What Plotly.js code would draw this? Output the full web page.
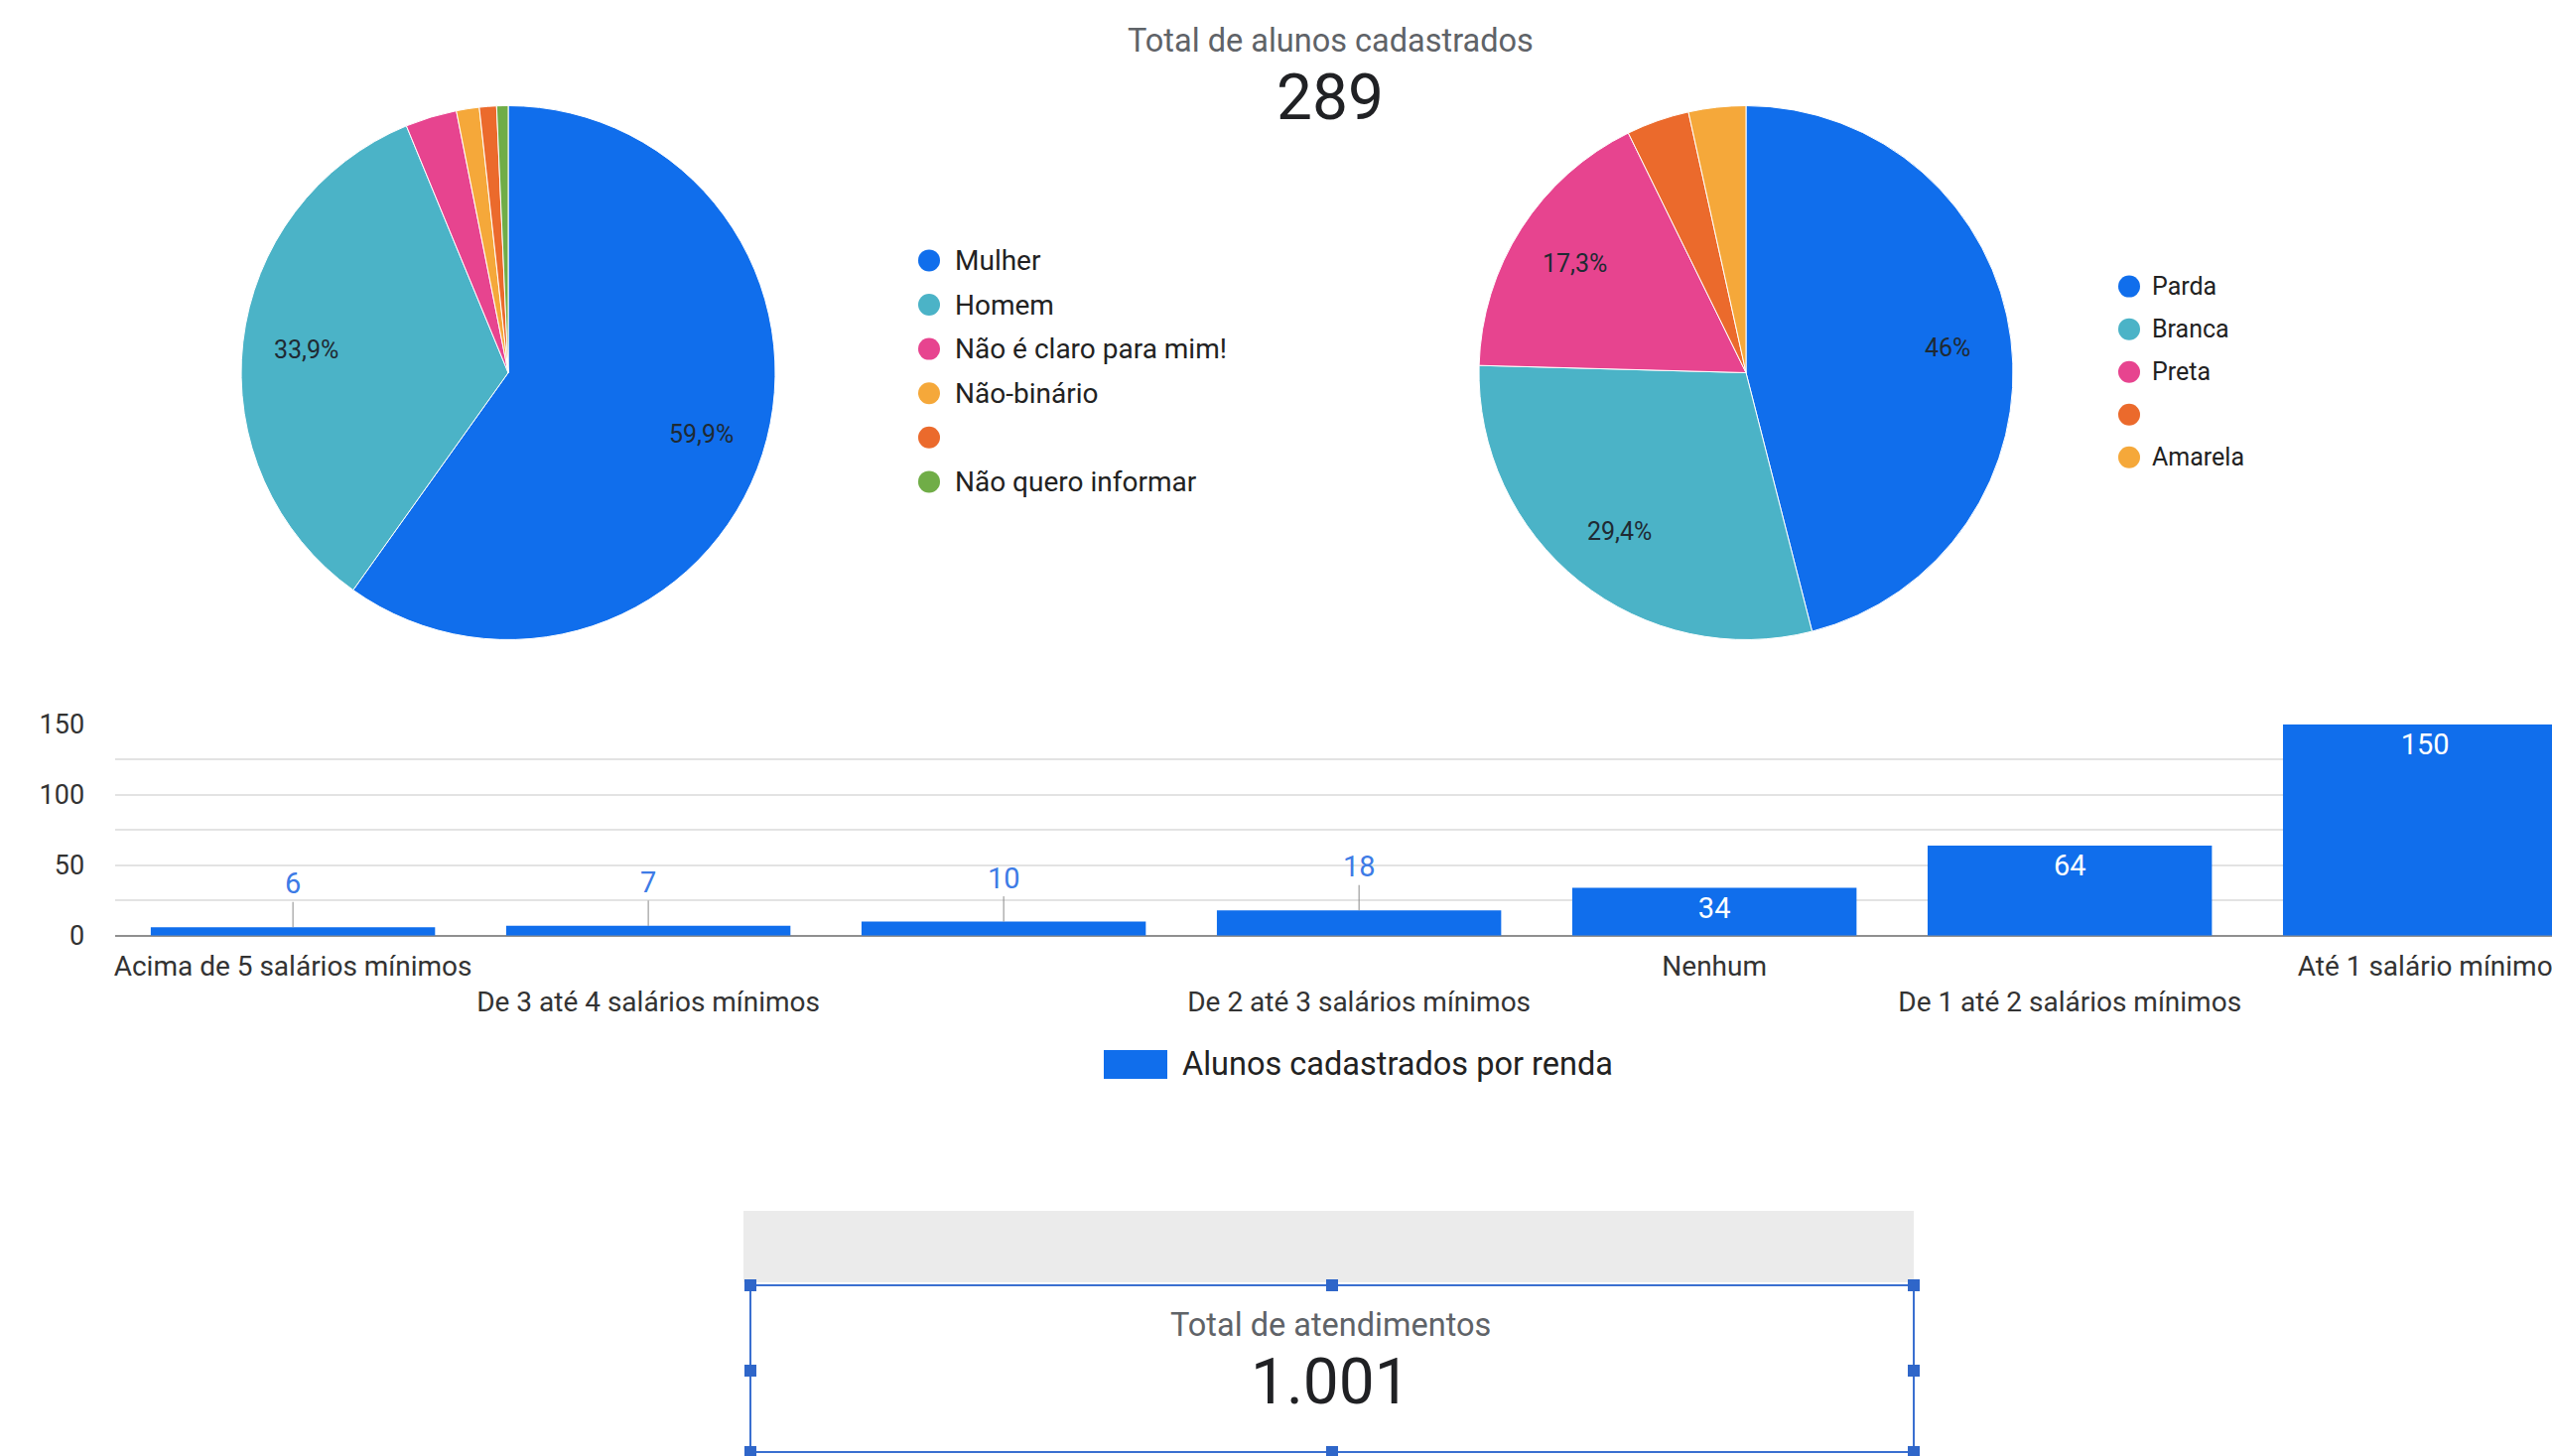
<!DOCTYPE html>
<html>
<head>
<meta charset="utf-8">
<script src="https://cdn.plot.ly/plotly-3.0.1.min.js"></script>
<style>
  html, body { margin: 0; padding: 0; background: #ffffff; overflow: hidden; }
  #chart { width: 2571px; height: 1467px; }
</style>
</head>
<body>
<div id="chart"></div>
<script>
// ---------------- DATA ----------------
const totalAlunos = 289;
const totalAtendimentos = '1.001';

const generoLabels = ['Mulher', 'Homem', 'Não é claro para mim!', 'Não-binário', '', 'Não quero informar'];
const generoValores = [173, 98, 9, 4, 3, 2];

const racaLabels = ['Parda', 'Branca', 'Preta', '', 'Amarela'];
const racaValores = [133, 85, 50, 11, 10];

const rendaCategorias = ['Acima de 5 salários mínimos', 'De 3 até 4 salários mínimos', 'De 4 até 5 salários mínimos',
  'De 2 até 3 salários mínimos', 'Nenhum', 'De 1 até 2 salários mínimos', 'Até 1 salário mínimo'];
const rendaValores = [6, 7, 10, 18, 34, 64, 150];
const rendaTickLabels = ['Acima de 5 salários mínimos', 'De 3 até 4 salários mínimos', '',
  'De 2 até 3 salários mínimos', 'Nenhum', 'De 1 até 2 salários mínimos', 'Até 1 salário mínimo'];
const rendaSerie = 'Alunos cadastrados por renda';

// ---------------- STYLE ----------------
const W = 2571, H = 1467;
const FONT = 'Roboto, "Noto Sans", Arial, sans-serif';
const BLUE = '#106eec';
const generoCores = ['#106eec', '#4bb3c7', '#e7448f', '#f5a83a', '#eb6a2c', '#70ad47'];
const racaCores = ['#106eec', '#4bb3c7', '#e7448f', '#eb6a2c', '#f5a83a'];

const px = x => x / W;
const py = y => 1 - y / H;

const pieL = { cx: 512, cy: 375.5, r: 269 };
const pieR = { cx: 1759, cy: 375.5, r: 269 };

function pieDomain(p) {
  return { x: [px(p.cx - p.r), px(p.cx + p.r)], y: [py(p.cy + p.r), py(p.cy - p.r)] };
}
function fmtPct(v, total) {
  const n = Math.round(v / total * 1000) / 10;
  return n.toString().replace('.', ',') + '%';
}

const annotations = [];
const shapes = [];

function pieLabels(p, values) {
  const total = values.reduce((a, b) => a + b, 0);
  let cum = 0;
  values.forEach(v => {
    const phi = 2 * Math.PI * (cum + v / 2) / total;
    cum += v;
    if (v / total < 0.05) return;
    const x = p.cx + 0.76 * p.r * Math.sin(phi);
    const y = p.cy - 0.76 * p.r * Math.cos(phi);
    annotations.push({
      xref: 'paper', yref: 'paper', x: px(x), y: py(y), xanchor: 'center', yanchor: 'middle',
      text: fmtPct(v, total), showarrow: false, font: { family: FONT, size: 25, color: '#1f2a33' }
    });
  });
}
pieLabels(pieL, generoValores);
pieLabels(pieR, racaValores);

function legend(labels, colors, dotX, textX, y0, step, size) {
  labels.forEach((lab, i) => {
    const y = y0 + i * step;
    shapes.push({
      type: 'circle', xref: 'paper', yref: 'paper', xsizemode: 'pixel', ysizemode: 'pixel',
      xanchor: px(dotX), yanchor: py(y), x0: -11, x1: 11, y0: -11, y1: 11,
      fillcolor: colors[i], line: { width: 0 }
    });
    if (lab) {
      annotations.push({
        xref: 'paper', yref: 'paper', x: px(textX), y: py(y), xanchor: 'left', yanchor: 'middle',
        text: lab, showarrow: false, font: { family: FONT, size: size, color: '#222222' }
      });
    }
  });
}
legend(generoLabels, generoCores, 936, 960, 262.4, 44.6, 28);
legend(racaLabels, racaCores, 2145, 2166, 288.6, 43.05, 25);

// Title KPI
annotations.push({ xref: 'paper', yref: 'paper', x: px(1340), y: py(41), xanchor: 'center', yanchor: 'middle',
  text: 'Total de alunos cadastrados', showarrow: false, font: { family: FONT, size: 32.5, color: '#5f6368' } });
annotations.push({ xref: 'paper', yref: 'paper', x: px(1340), y: py(98), xanchor: 'center', yanchor: 'middle',
  text: String(totalAlunos), showarrow: false, font: { family: FONT, size: 64, color: '#202124' } });

// Bar value labels outside (small bars) with leader line
const INSIDE_MIN = 25;
rendaValores.forEach((v, i) => {
  if (v >= INSIDE_MIN) return;
  annotations.push({
    xref: 'x', yref: 'y', x: rendaCategorias[i], y: v, text: String(v), showarrow: true,
    ax: 0, ay: -44, arrowhead: 0, arrowwidth: 1, arrowcolor: '#8a8a8a', standoff: 0,
    font: { family: FONT, size: 29, color: '#3d7be6' }
  });
});

// Bar legend
shapes.push({ type: 'rect', xref: 'paper', yref: 'paper', x0: px(1112), x1: px(1176), y0: py(1087), y1: py(1058),
  fillcolor: BLUE, line: { width: 0 } });
annotations.push({ xref: 'paper', yref: 'paper', x: px(1189), y: py(1072), xanchor: 'left', yanchor: 'middle',
  text: rendaSerie, showarrow: false, font: { family: FONT, size: 32.5, color: '#222222' } });

// Bottom card
shapes.push({ type: 'rect', xref: 'paper', yref: 'paper', x0: px(749), x1: px(1928), y0: py(1292), y1: py(1220),
  fillcolor: '#ebebeb', line: { width: 0 } });
shapes.push({ type: 'rect', xref: 'paper', yref: 'paper', x0: px(756), x1: px(1928), y0: py(1463), y1: py(1295),
  fillcolor: 'rgba(0,0,0,0)', line: { color: '#3a6fd0', width: 2 } });
[756, 1342, 1928].forEach(hx => {
  [1295, 1381, 1463].forEach(hy => {
    if (hx === 1342 && hy === 1381) return;
    shapes.push({ type: 'rect', xref: 'paper', yref: 'paper', xsizemode: 'pixel', ysizemode: 'pixel',
      xanchor: px(hx), yanchor: py(hy), x0: -6, x1: 6, y0: -6, y1: 6, fillcolor: '#2f66c9', line: { width: 0 } });
  });
});
annotations.push({ xref: 'paper', yref: 'paper', x: px(1340), y: py(1335), xanchor: 'center', yanchor: 'middle',
  text: 'Total de atendimentos', showarrow: false, font: { family: FONT, size: 32.5, color: '#5f6368' } });
annotations.push({ xref: 'paper', yref: 'paper', x: px(1340), y: py(1392), xanchor: 'center', yanchor: 'middle',
  text: totalAtendimentos, showarrow: false, font: { family: FONT, size: 64, color: '#202124' } });

// ---------------- TRACES ----------------
const traces = [
  {
    type: 'pie', labels: generoLabels.map((l, i) => l || '(sem resposta ' + i + ')'), values: generoValores,
    sort: false, direction: 'clockwise', rotation: 0,
    marker: { colors: generoCores, line: { color: '#ffffff', width: 1 } },
    textinfo: 'none', domain: pieDomain(pieL), showlegend: false, hoverinfo: 'label+percent'
  },
  {
    type: 'pie', labels: racaLabels.map((l, i) => l || '(sem resposta ' + i + ')'), values: racaValores,
    sort: false, direction: 'clockwise', rotation: 0,
    marker: { colors: racaCores, line: { color: '#ffffff', width: 1 } },
    textinfo: 'none', domain: pieDomain(pieR), showlegend: false, hoverinfo: 'label+percent'
  },
  {
    type: 'bar', x: rendaCategorias, y: rendaValores, name: rendaSerie,
    marker: { color: BLUE },
    text: rendaValores.map(String),
    textposition: rendaValores.map(v => v >= INSIDE_MIN ? 'inside' : 'none'),
    insidetextanchor: 'end', textangle: 0, constraintext: 'none',
    textfont: { family: FONT, size: 29, color: '#ffffff' },
    showlegend: false, hoverinfo: 'x+y'
  }
];

const layout = {
  width: W, height: H,
  margin: { l: 0, r: 0, t: 0, b: 0, pad: 0 },
  paper_bgcolor: '#ffffff', plot_bgcolor: '#ffffff',
  font: { family: FONT },
  showlegend: false,
  bargap: 0.2,
  xaxis: {
    domain: [px(116.1), 1], range: [-0.5, 6.357], type: 'category',
    tickmode: 'array', tickvals: rendaCategorias,
    ticktext: rendaTickLabels.map((t, i) => (i % 2 === 1 ? '<br>' : '') + t),
    ticks: '', showgrid: false, zeroline: false, showline: false, automargin: false,
    tickfont: { family: FONT, size: 28, color: '#333333' }, ticklabelstandoff: 11
  },
  yaxis: {
    domain: [py(942.8), py(729.7)], range: [0, 150], tickmode: 'array', tickvals: [0, 50, 100, 150],
    showgrid: true, gridcolor: '#e3e3e3', gridwidth: 2,
    minor: { tickvals: [25, 75, 125], showgrid: true, gridcolor: '#e3e3e3', gridwidth: 2 },
    zeroline: true, zerolinecolor: '#8f8f8f', zerolinewidth: 2,
    ticks: '', automargin: false, ticklabelstandoff: 30,
    tickfont: { family: FONT, size: 27, color: '#333333' }
  },
  annotations: annotations,
  shapes: shapes
};

Plotly.newPlot('chart', traces, layout, { staticPlot: true, displayModeBar: false });
</script>
</body>
</html>
